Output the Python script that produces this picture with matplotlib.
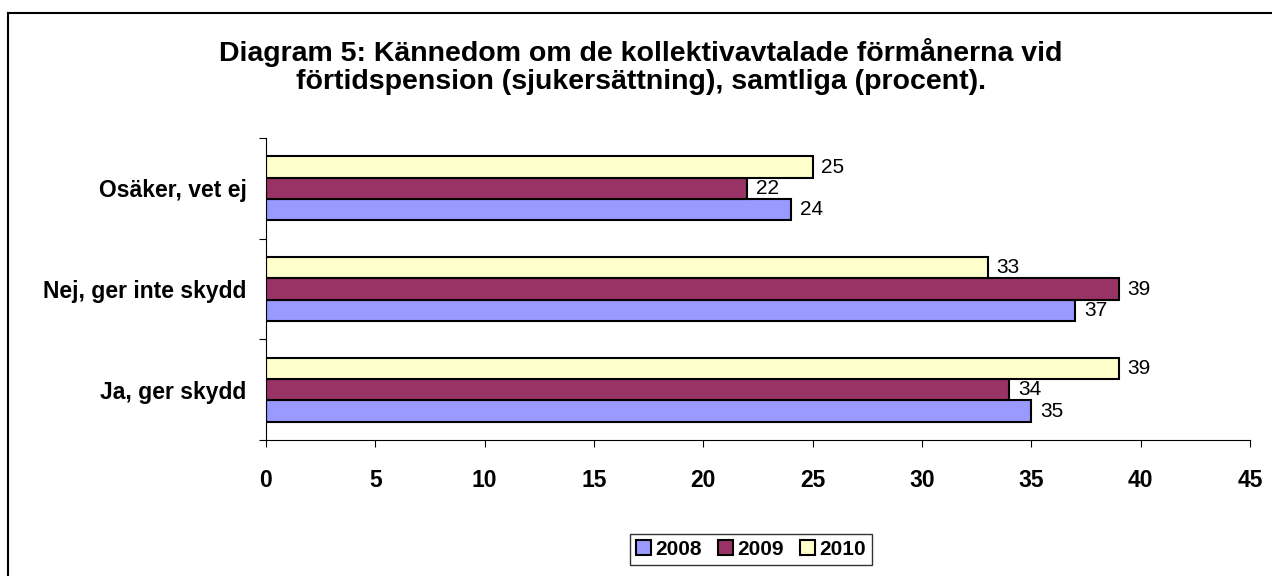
import matplotlib
matplotlib.use("Agg")
import matplotlib.pyplot as plt
from matplotlib.lines import Line2D
from matplotlib.patches import Patch
import numpy as np

plt.rcParams['font.family'] = ['Liberation Sans', 'DejaVu Sans']

categories = ['Ja, ger skydd', 'Nej, ger inte skydd', 'Osäker, vet ej']
years = ['2008', '2009', '2010']
vals_2008 = [35, 37, 24]
vals_2009 = [34, 39, 22]
vals_2010 = [39, 33, 25]
colors = ['#9999FF', '#993366', '#FFFFCC']

title_lines = ['Diagram 5: Kännedom om de kollektivavtalade förmånerna vid',
               'förtidspension (sjukersättning), samtliga (procent).']

fig = plt.figure(figsize=(12.72, 5.76), dpi=100)
ax = fig.add_axes([0.2091, 0.2361, 0.7736, 0.5243])

y = np.arange(len(categories))
h = 0.212
series = [vals_2008, vals_2009, vals_2010]
for i, (vals, col) in enumerate(zip(series, colors)):
    pos = y + (i - 1) * h
    bars = ax.barh(pos, vals, height=h, color=col, edgecolor='black', linewidth=1.5)
    for b, v in zip(bars, vals):
        ax.text(b.get_width() + 0.4, b.get_y() + b.get_height() / 2, str(v),
                va='center', ha='left', fontsize=15)

ax.set_xlim(0, 45)
ax.set_ylim(-0.5, 2.5)
ax.set_xticks(np.arange(0, 46, 5))
ax.tick_params(axis='x', length=5, pad=16, labelsize=16.5)
for lbl in ax.get_xticklabels():
    lbl.set_fontweight('bold')

ax.set_yticks([-0.5, 0.5, 1.5, 2.5])
ax.set_yticklabels([])
ax.tick_params(axis='y', which='major', length=5)
ax.set_yticks(y, minor=True)
ax.set_yticklabels(categories, minor=True, fontsize=16.5, fontweight='bold')
ax.tick_params(axis='y', which='minor', length=0, pad=14)

for s in ['top', 'right']:
    ax.spines[s].set_visible(False)

# title, two lines placed separately to get the tight line spacing
fig.text(0.504, 1 - 61 / 576, title_lines[0], ha='center', va='baseline',
         fontsize=20.5, fontweight='bold')
fig.text(0.504, 1 - 89 / 576, title_lines[1], ha='center', va='baseline',
         fontsize=20.5, fontweight='bold')

handles = [Patch(facecolor=c, edgecolor='black', linewidth=1.5, label=yr)
           for c, yr in zip(colors, years)]
leg = fig.legend(handles=handles, loc='center', bbox_to_anchor=(0.5904, 0.046),
                 ncol=3, frameon=True, fancybox=False, prop={'weight': 'bold', 'size': 15},
                 handlelength=0.7, handleheight=0.7, handletextpad=0.2,
                 columnspacing=0.8, borderpad=0.3)
leg.get_frame().set_edgecolor('black')
leg.get_frame().set_linewidth(1.0)

# outer chart border (only left and top are visible in the image)
fig.add_artist(Line2D([0.0063, 0.0063], [-0.1, 0.9774], color='black', linewidth=1.5,
                      transform=fig.transFigure))
fig.add_artist(Line2D([0.0063, 1.1], [0.9774, 0.9774], color='black', linewidth=1.5,
                      transform=fig.transFigure))

fig.savefig('out.png', dpi=100)
